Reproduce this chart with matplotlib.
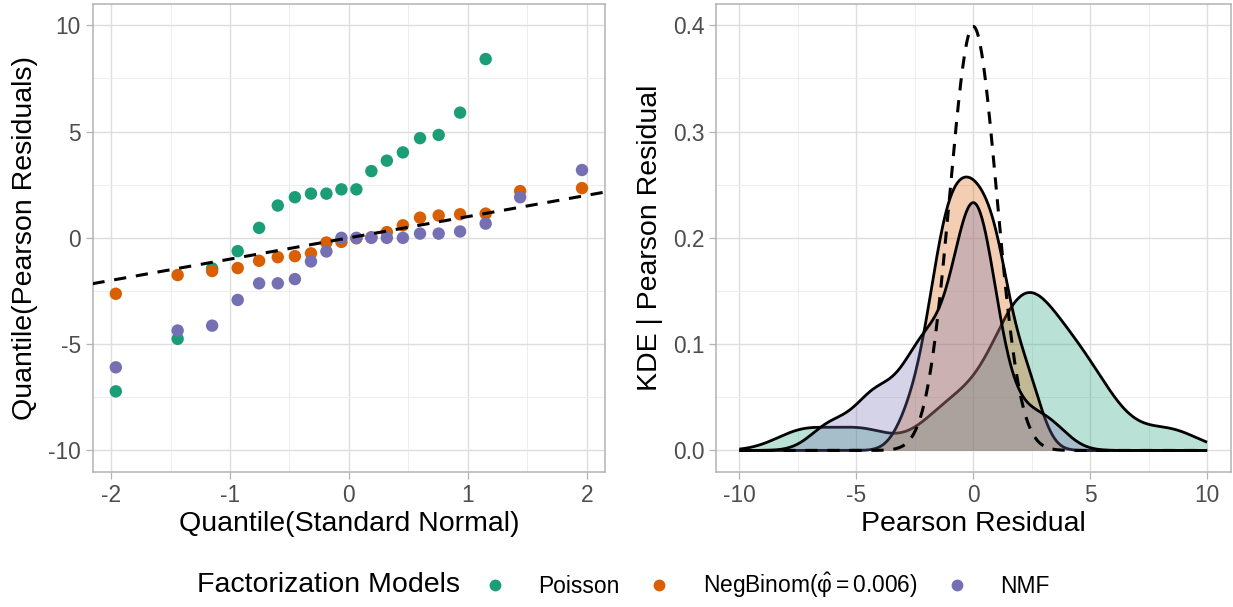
import numpy as np
import matplotlib
matplotlib.use("Agg")
import matplotlib.pyplot as plt
from matplotlib.lines import Line2D

# ---------------- data ----------------
models = ["Poisson", "NegBinom", "NMF"]
legend_labels = ["Poisson", r"NegBinom($\hat{\varphi} = 0.006$)", "NMF"]
colors = ["#1B9E77", "#D95F02", "#7570B3"]

# theoretical standard normal quantiles (n = 20)
normal_quantiles = [-1.960, -1.440, -1.150, -0.935, -0.755, -0.598, -0.454, -0.319, -0.189, -0.063,
                    0.063, 0.189, 0.319, 0.454, 0.598, 0.755, 0.935, 1.150, 1.440, 1.960]

# sorted Pearson residuals per model (NaN = outside plotted range)
poisson_resid = [-7.22, -4.75, -1.44, -0.625, 0.47, 1.52, 1.91, 2.08, 2.08, 2.28,
                 2.28, 3.14, 3.63, 4.02, 4.69, 4.84, 5.89, 8.41, np.nan, np.nan]
negbinom_resid = [-2.63, -1.75, -1.56, -1.42, -1.08, -0.91, -0.86, -0.73, -0.22, -0.19,
                  -0.02, 0.03, 0.27, 0.59, 0.95, 1.05, 1.11, 1.14, 2.20, 2.34]
nmf_resid = [-6.09, -4.36, -4.13, -2.92, -2.14, -2.14, -1.94, -1.11, -0.64, 0.0,
             0.0, 0.0, 0.0, 0.0, 0.20, 0.20, 0.30, 0.67, 1.91, 3.19]
residuals = [poisson_resid, negbinom_resid, nmf_resid]

left_xticks = [-2, -1, 0, 1, 2]
left_yticks = [-10, -5, 0, 5, 10]
right_xticks = [-10, -5, 0, 5, 10]
right_yticks = [0.0, 0.1, 0.2, 0.3, 0.4]


# ------------- helpers ---------------
def bw_nrd0(x):
    x = np.asarray(x)
    sd = np.std(x, ddof=1)
    iqr = np.subtract(*np.percentile(x, [75, 25]))
    lo = min(sd, iqr / 1.34)
    return 0.9 * lo * len(x) ** (-0.2)


def kde(x, grid):
    x = np.asarray(x)
    h = bw_nrd0(x)
    z = (grid[:, None] - x[None, :]) / h
    return np.exp(-0.5 * z ** 2).sum(axis=1) / (len(x) * h * np.sqrt(2 * np.pi))


plt.rcParams["font.family"] = ["Liberation Sans", "DejaVu Sans"]
plt.rcParams["mathtext.fontset"] = "custom"
plt.rcParams["mathtext.rm"] = "Liberation Sans"
plt.rcParams["mathtext.it"] = "Liberation Sans"
plt.rcParams["mathtext.bf"] = "Liberation Sans:bold"
plt.rcParams["mathtext.fallback"] = "stix"

TITLE_FS = 20.5
TICK_FS = 16.4

W, H = 1233, 607
fig = plt.figure(figsize=(W / 100, H / 100), dpi=100)


def px_axes(x0, x1, y0, y1):
    return fig.add_axes([x0 / W, 1 - y1 / H, (x1 - x0) / W, (y1 - y0) / H])


def style(ax):
    ax.set_facecolor("white")
    ax.grid(True, which="major", color="#DEDEDE", lw=1.0, zorder=0)
    ax.grid(True, which="minor", color="#EDEDED", lw=0.7, zorder=0)
    ax.set_axisbelow(True)
    for s in ax.spines.values():
        s.set_color("#B3B3B3")
        s.set_linewidth(1.1)
    ax.tick_params(which="major", length=5, width=0.9, color="#B3B3B3",
                   labelsize=TICK_FS, labelcolor="#4D4D4D", pad=3.5)
    ax.tick_params(which="minor", length=0)


axL = px_axes(92.5, 605.3, 4, 471.7)
axR = px_axes(716, 1230.5, 4, 471.7)

# ---------- left: QQ plot ----------
q = np.array(normal_quantiles)
for vals, col in zip(residuals, colors):
    v = np.array(vals, dtype=float)
    ok = ~np.isnan(v) & (np.abs(v) <= 10)
    axL.scatter(q[ok], v[ok], s=80, color=col, edgecolors="none", zorder=3)
axL.axline((0, 0), slope=1, color="black", lw=2.2, ls=(0, (4, 3.2)), zorder=4)
axL.set_xlim(-2.156, 2.156)
axL.set_ylim(-11, 11)
axL.set_xticks(left_xticks)
axL.set_xticklabels([str(t) for t in left_xticks])
axL.set_yticks(left_yticks)
axL.set_yticklabels([str(t) for t in left_yticks])
axL.set_xticks([-1.5, -0.5, 0.5, 1.5], minor=True)
axL.set_yticks([-7.5, -2.5, 2.5, 7.5], minor=True)
style(axL)
axL.set_xlabel("Quantile(Standard Normal)", fontsize=TITLE_FS, labelpad=3)
axL.set_ylabel("Quantile(Pearson Residuals)", fontsize=TITLE_FS, labelpad=7)

# ---------- right: KDE ----------
grid = np.linspace(-10, 10, 512)
for vals, col in zip(residuals, colors):
    v = np.array(vals, dtype=float)
    v = v[~np.isnan(v) & (v >= -10) & (v <= 10)]
    d = kde(v, grid)
    axR.fill_between(grid, 0, d, color=col, alpha=0.3, lw=0, zorder=2)
    axR.plot(grid, d, color="black", lw=2.0, zorder=2, solid_capstyle="butt")
normal_pdf = np.exp(-0.5 * grid ** 2) / np.sqrt(2 * np.pi)
axR.plot(grid, normal_pdf, color="black", lw=2.2, ls=(0, (4, 3.2)), zorder=5)
axR.set_xlim(-11, 11)
axR.set_ylim(-0.02, 0.42)
axR.set_xticks(right_xticks)
axR.set_xticklabels([str(t) for t in right_xticks])
axR.set_yticks(right_yticks)
axR.set_yticklabels([f"{t:.1f}" for t in right_yticks])
axR.set_xticks([-7.5, -2.5, 2.5, 7.5], minor=True)
axR.set_yticks([0.05, 0.15, 0.25, 0.35], minor=True)
style(axR)
axR.set_xlabel("Pearson Residual", fontsize=TITLE_FS, labelpad=3)
axR.set_ylabel("KDE | Pearson Residual", fontsize=TITLE_FS, labelpad=7)

# ---------- legend ----------
fig.text(197 / W, 1 - 585 / H, "Factorization Models", fontsize=TITLE_FS, ha="left", va="center")
handles = [Line2D([], [], ls="none", marker="o", markersize=8.5, color=c, markeredgewidth=0)
           for c in colors]
fig.legend(handles, legend_labels, loc="center left", bbox_to_anchor=(483.5 / W, 1 - 585 / H),
           ncol=3, frameon=False, fontsize=TICK_FS, handlelength=1.0, handletextpad=1.4,
           columnspacing=1.25, borderaxespad=0, borderpad=0)

fig.savefig("out.png", dpi=100)
